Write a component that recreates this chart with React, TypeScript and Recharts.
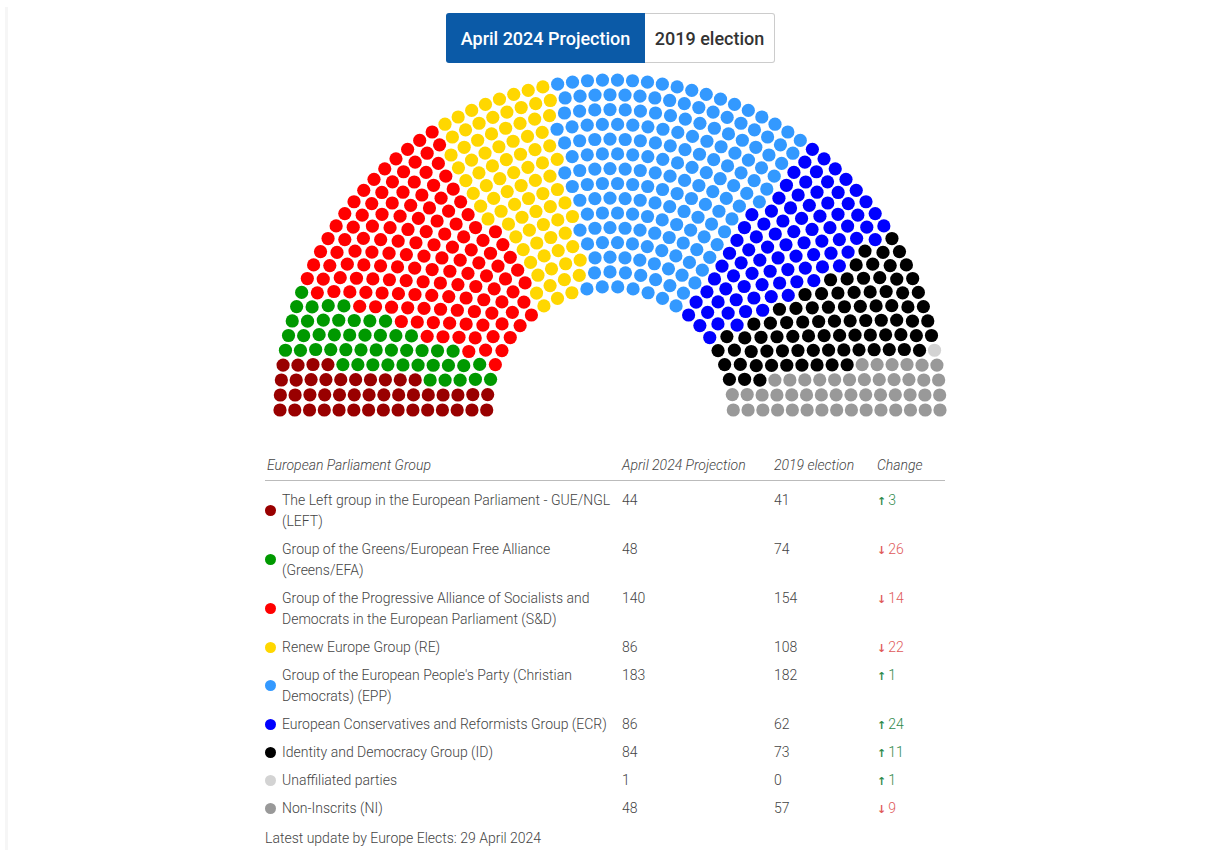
import React from 'react';
import { ScatterChart, Scatter, XAxis, YAxis } from 'recharts';

// ---------- data ----------
const groupNames: string[] = [
  'The Left group in the European Parliament - GUE/NGL\n(LEFT)',
  'Group of the Greens/European Free Alliance\n(Greens/EFA)',
  'Group of the Progressive Alliance of Socialists and\nDemocrats in the European Parliament (S&D)',
  'Renew Europe Group (RE)',
  "Group of the European People's Party (Christian\nDemocrats) (EPP)",
  'European Conservatives and Reformists Group (ECR)',
  'Identity and Democracy Group (ID)',
  'Unaffiliated parties',
  'Non-Inscrits (NI)',
];
const groupColors: string[] = [
  '#990000', '#009900', '#ff0000', '#ffd700', '#3399ff', '#0000ff', '#000000', '#d3d3d3', '#999999',
];
const projection2024: number[] = [44, 48, 140, 86, 183, 86, 84, 1, 48];
const election2019: number[] = [41, 74, 154, 108, 182, 62, 73, 0, 57];
const columnHeaders: string[] = ['European Parliament Group', 'April 2024 Projection', '2019 election', 'Change'];
const tabLabels: string[] = ['April 2024 Projection', '2019 election'];
const footnote = 'Latest update by Europe Elects: 29 April 2024';

// ---------- parliament layout (Highcharts item-series style) ----------
const ROW_COUNT = 15;
const R_OUT = 330;
const R_IN = 123.3;

type Slot = { x: number; y: number; a: number };

function buildSlots(total: number): Slot[] {
  const radii: number[] = [];
  for (let row = ROW_COUNT; row > 0; row--) {
    radii.push(R_IN + ((row - 1) / (ROW_COUNT - 1)) * (R_OUT - R_IN));
  }
  let itemSize = 0;
  let rows: any[] | null = null;
  let testRows: any[] | null = null;
  let itemCount = Number.MAX_VALUE;
  let finalCount = Number.MAX_VALUE;
  while (itemCount > total) {
    finalCount = itemCount;
    rows = testRows;
    testRows = [];
    itemCount = 0;
    itemSize++;
    for (const r of radii) {
      const len = Math.PI * r;
      const c = Math.ceil(len / itemSize);
      testRows.push({ r, len, c });
      itemCount += c + 1;
    }
  }
  if (!rows) return [];
  let over = finalCount - total;
  while (over > 0) {
    rows
      .map((row) => ({ a: row.c / row.len, row }))
      .sort((p, q) => q.a - p.a)
      .slice(0, Math.min(over, Math.ceil(rows.length / 2)))
      .forEach((s) => {
        if (over > 0) {
          s.row.c--;
          over--;
        }
      });
  }
  const slots: Slot[] = [];
  for (const row of rows) {
    const inc = Math.PI / row.c;
    for (let k = 0; k <= row.c; k++) {
      const a = k * inc;
      slots.push({ x: -Math.cos(a) * row.r, y: Math.sin(a) * row.r, a });
    }
  }
  slots.sort((p, q) => p.a - q.a);
  return slots;
}

const totalSeats = projection2024.reduce((s, v) => s + v, 0);
const allSlots = buildSlots(totalSeats);
const seriesData: Slot[][] = [];
{
  let idx = 0;
  for (const n of projection2024) {
    seriesData.push(allSlots.slice(idx, idx + n));
    idx += n;
  }
}

const FONT = 'Roboto, "Open Sans", sans-serif';
const TEXT = '#444';
const GREEN = '#2f8a4c';
const RED = '#e05a5a';

const makeDot = (color: string) => (props: any) =>
  props.cx == null ? <g /> : <circle cx={props.cx} cy={props.cy} r={6.6} fill={color} />;

export default function App() {
  return (
    <div style={{ position: 'absolute', left: 0, top: 0, width: 1200, height: 850, fontFamily: FONT, color: TEXT }}>
      {/* faint left strip */}
      <div style={{ position: 'absolute', left: 5, top: 7, width: 3, height: 843, background: '#f6f6f6' }} />

      {/* hemicycle */}
      <div style={{ position: 'absolute', left: 260, top: 65 }}>
        <ScatterChart width={700} height={360} margin={{ top: 0, right: 0, bottom: 0, left: 0 }}>
          <XAxis type="number" dataKey="x" domain={[-350, 350]} allowDataOverflow hide />
          <YAxis type="number" dataKey="y" domain={[-15, 345]} allowDataOverflow hide />
          {seriesData.map((d, i) => (
            <Scatter
              key={i}
              data={d}
              fill={groupColors[i]}
              isAnimationActive={false}
              shape={makeDot(groupColors[i])}
            />
          ))}
        </ScatterChart>
      </div>

      {/* tabs */}
      <div style={{ position: 'absolute', left: 446, top: 13, display: 'flex', height: 50 }}>
        <div
          style={{
            width: 199, height: 50, background: '#0b5aa7', color: '#fff', borderRadius: '3px 0 0 3px',
            display: 'flex', alignItems: 'center', justifyContent: 'center', fontSize: 18, fontWeight: 500,
            boxSizing: 'border-box',
          }}
        >
          {tabLabels[0]}
        </div>
        <div
          style={{
            width: 130, height: 50, background: '#fff', color: '#333', border: '1px solid #ccc', borderLeft: 'none',
            borderRadius: '0 3px 3px 0', display: 'flex', alignItems: 'center', justifyContent: 'center',
            fontSize: 18, fontWeight: 500, boxSizing: 'border-box',
          }}
        >
          {tabLabels[1]}
        </div>
      </div>

      {/* table */}
      <div style={{ position: 'absolute', left: 265, top: 455, width: 680, fontSize: 14, fontWeight: 300, lineHeight: '21px' }}>
        <div style={{ display: 'flex', fontStyle: 'italic', paddingBottom: 4, borderBottom: '1px solid #bbb' }}>
          <div style={{ width: 357, paddingLeft: 2, boxSizing: 'border-box' }}>{columnHeaders[0]}</div>
          <div style={{ width: 152 }}>{columnHeaders[1]}</div>
          <div style={{ width: 103 }}>{columnHeaders[2]}</div>
          <div>{columnHeaders[3]}</div>
        </div>
        <div style={{ marginTop: 5 }}>
          {groupNames.map((name, i) => {
            const diff = projection2024[i] - election2019[i];
            const up = diff >= 0;
            return (
              <div key={i} style={{ display: 'flex', alignItems: 'flex-start', padding: '3.5px 0', height: name.includes('\n') ? 42 : 21 }}>
                <div style={{ width: 357, display: 'flex', alignItems: 'center', alignSelf: 'stretch' }}>
                  <div style={{ width: 11, height: 11, borderRadius: '50%', background: groupColors[i], flex: 'none', marginRight: 6 }} />
                  <div style={{ whiteSpace: 'pre' }}>{name}</div>
                </div>
                <div style={{ width: 152 }}>{projection2024[i]}</div>
                <div style={{ width: 103 }}>{election2019[i]}</div>
                <div style={{ color: up ? GREEN : RED, height: 21 }}>
                  <span style={{ fontSize: 11, lineHeight: '10px', fontWeight: 700, marginRight: 2, fontFamily: '"DejaVu Sans", sans-serif' }}>{up ? '↑' : '↓'}</span>
                  {Math.abs(diff)}
                </div>
              </div>
            );
          })}
        </div>
        <div style={{ marginTop: 5.5 }}>{footnote}</div>
      </div>
    </div>
  );
}
